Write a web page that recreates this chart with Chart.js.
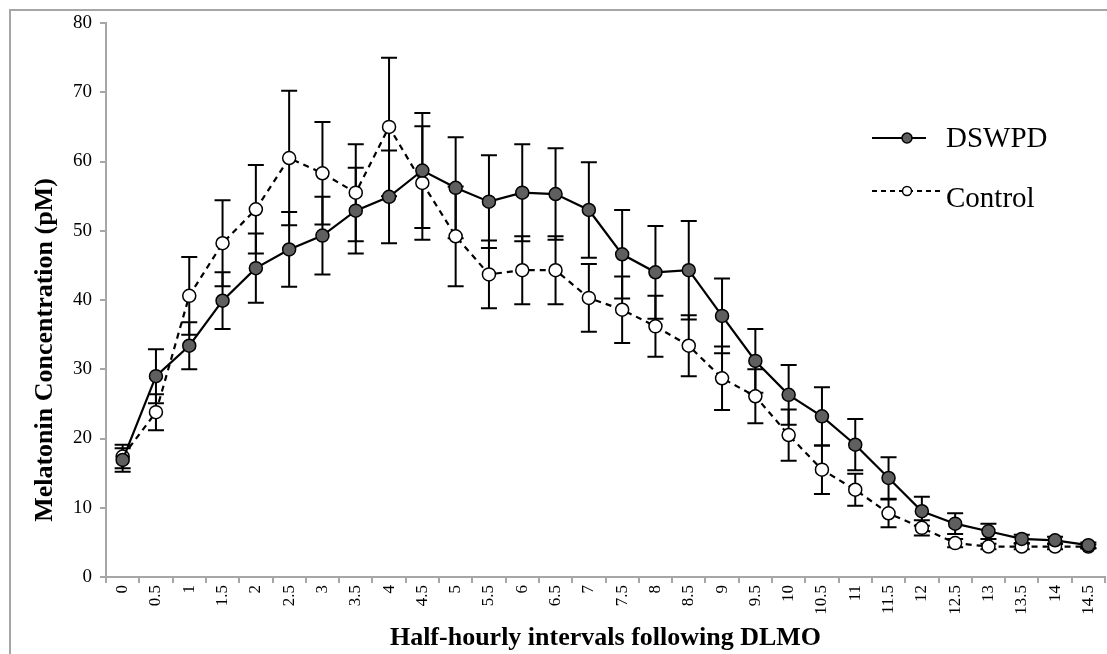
<!DOCTYPE html>
<html>
<head>
<meta charset="utf-8">
<script src="https://cdn.jsdelivr.net/npm/chart.js@4.4.1/dist/chart.umd.min.js"></script>
<style>
  html, body { margin: 0; padding: 0; background: #fff; }
  #wrap { width: 1107px; height: 654px; position: relative; }
</style>
</head>
<body>
<div id="wrap"><canvas id="melatoninChart"></canvas></div>
<script>
// Các mốc thời gian (nửa giờ sau DLMO)
const intervals = ['0', '0.5', '1', '1.5', '2', '2.5', '3', '3.5', '4', '4.5',
    '5', '5.5', '6', '6.5', '7', '7.5', '8', '8.5', '9', '9.5',
    '10', '10.5', '11', '11.5', '12', '12.5', '13', '13.5', '14', '14.5'];

// Nồng độ melatonin (pM)
const dswpdValues = [16.9, 29.0, 33.4, 39.9, 44.6, 47.3, 49.3, 52.9, 54.9, 58.7,
    56.2, 54.2, 55.5, 55.3, 53.0, 46.6, 44.0, 44.3, 37.7, 31.2,
    26.3, 23.2, 19.1, 14.3, 9.5, 7.7, 6.6, 5.5, 5.3, 4.6];
const dswpdErrors = [1.7, 3.9, 3.4, 4.1, 5.0, 5.4, 5.6, 6.2, 6.7, 8.3,
    7.3, 6.7, 7.0, 6.6, 6.9, 6.4, 6.7, 7.1, 5.4, 4.6,
    4.3, 4.2, 3.7, 3.0, 2.1, 1.5, 1.1, 0.6, 0.5, 0.4];

const controlValues = [17.4, 23.8, 40.6, 48.2, 53.1, 60.5, 58.3, 55.5, 65.0, 56.9,
    49.2, 43.7, 44.3, 44.3, 40.3, 38.6, 36.2, 33.4, 28.7, 26.1,
    20.5, 15.5, 12.6, 9.2, 7.1, 4.9, 4.4, 4.4, 4.4, 4.4];
const controlErrors = [1.7, 2.6, 5.6, 6.2, 6.4, 9.7, 7.4, 7.0, 10.0, 8.2,
    7.2, 4.9, 4.9, 4.9, 4.9, 4.8, 4.4, 4.4, 4.6, 3.9,
    3.7, 3.5, 2.3, 2.0, 1.1, 0.6, 0.4, 0.4, 0.4, 0.3];

const yTicks = [0, 10, 20, 30, 40, 50, 60, 70, 80];

const serif = '"Liberation Serif", "Times New Roman", serif';

// Vẽ thanh sai số (error bars) phía sau các điểm
const errorBarPlugin = {
    id: 'errorBars',
    beforeDatasetsDraw(chart) {
        const ctx = chart.ctx;
        const yScale = chart.scales.y;
        ctx.save();
        ctx.strokeStyle = '#000';
        ctx.lineWidth = 2;
        chart.data.datasets.forEach((ds, i) => {
            const meta = chart.getDatasetMeta(i);
            meta.data.forEach((pt, j) => {
                const err = ds.errors[j];
                const yTop = yScale.getPixelForValue(ds.data[j] + err);
                const yBot = yScale.getPixelForValue(ds.data[j] - err);
                ctx.beginPath();
                ctx.moveTo(pt.x, yTop);
                ctx.lineTo(pt.x, yBot);
                ctx.moveTo(pt.x - 8, yTop);
                ctx.lineTo(pt.x + 8, yTop);
                ctx.moveTo(pt.x - 8, yBot);
                ctx.lineTo(pt.x + 8, yBot);
                ctx.stroke();
            });
        });
        ctx.restore();
    }
};

// Khung viền ngoài, tiêu đề trục Y và chú thích
const framePlugin = {
    id: 'frameAndLegend',
    afterDraw(chart) {
        const ctx = chart.ctx;
        const area = chart.chartArea;
        ctx.save();
        ctx.strokeStyle = '#a6a6a6';
        ctx.lineWidth = 2;
        ctx.strokeRect(10, 10, chart.width + 20, chart.height + 20);

        // tiêu đề trục Y
        ctx.save();
        ctx.translate(45, 350);
        ctx.rotate(-Math.PI / 2);
        ctx.fillStyle = '#000';
        ctx.font = 'bold 26px ' + serif;
        ctx.textAlign = 'center';
        ctx.textBaseline = 'middle';
        ctx.fillText('Melatonin Concentration (pM)', 0, 0);
        ctx.restore();

        const rows = [
            { label: 'DSWPD', dash: [], fill: '#5f5f5f', r: 5, lineY: 138, textY: 147, len: 54 },
            { label: 'Control', dash: [5, 4], fill: '#fff', r: 4.5, lineY: 191, textY: 207, len: 69 }
        ];
        const lx = area.right - 233;
        rows.forEach(row => {
            ctx.strokeStyle = '#000';
            ctx.lineWidth = 2;
            ctx.setLineDash(row.dash);
            ctx.beginPath();
            ctx.moveTo(lx, row.lineY);
            ctx.lineTo(lx + row.len, row.lineY);
            ctx.stroke();
            ctx.setLineDash([]);
            ctx.beginPath();
            ctx.arc(lx + 35, row.lineY, row.r, 0, Math.PI * 2);
            ctx.fillStyle = row.fill;
            ctx.fill();
            ctx.lineWidth = 1.5;
            ctx.stroke();
            ctx.fillStyle = '#000';
            ctx.font = '29px ' + serif;
            ctx.textBaseline = 'alphabetic';
            ctx.fillText(row.label, lx + 74, row.textY);
        });
        ctx.restore();
    }
};

const ctx = document.getElementById('melatoninChart').getContext('2d');
new Chart(ctx, {
    type: 'line',
    data: {
        labels: intervals,
        datasets: [
            {
                label: 'DSWPD',
                data: dswpdValues,
                errors: dswpdErrors,
                borderColor: '#000',
                borderWidth: 2.2,
                pointRadius: 6.5,
                pointBackgroundColor: '#5f5f5f',
                pointBorderColor: '#000',
                pointBorderWidth: 1.5,
                tension: 0
            },
            {
                label: 'Control',
                data: controlValues,
                errors: controlErrors,
                borderColor: '#000',
                borderWidth: 2.2,
                borderDash: [6, 5],
                pointRadius: 6.5,
                pointBackgroundColor: '#fff',
                pointBorderColor: '#000',
                pointBorderWidth: 1.5,
                tension: 0
            }
        ]
    },
    options: {
        responsive: true,
        maintainAspectRatio: false,
        animation: false,
        layout: { autoPadding: false, padding: { top: 23, right: 2, left: 0, bottom: 0 } },
        plugins: {
            legend: { display: false },
            tooltip: { enabled: false }
        },
        scales: {
            x: {
                type: 'category',
                offset: true,
                afterFit: scale => {
                    scale.height = 77;
                    scale.paddingLeft = 0;
                    scale.paddingRight = 0;
                },
                grid: {
                    offset: true,
                    drawOnChartArea: false,
                    color: '#a6a6a6',
                    lineWidth: 2,
                    tickLength: 6
                },
                border: { color: '#a6a6a6', width: 2 },
                ticks: {
                    color: '#000',
                    font: { family: serif, size: 17 },
                    minRotation: 90,
                    maxRotation: 90,
                    autoSkip: false,
                    padding: 2
                },
                title: {
                    display: true,
                    text: 'Half-hourly intervals following DLMO',
                    color: '#000',
                    font: { family: serif, size: 26, weight: 'bold' },
                    padding: { top: 0, bottom: 0 }
                }
            },
            y: {
                min: 0,
                max: 80,
                afterFit: scale => { scale.width = 106; },
                afterBuildTicks: scale => { scale.ticks = yTicks.map(v => ({ value: v })); },
                grid: {
                    drawOnChartArea: false,
                    color: '#a6a6a6',
                    lineWidth: 2,
                    tickLength: 6
                },
                border: { color: '#a6a6a6', width: 2 },
                ticks: {
                    color: '#000',
                    font: { family: serif, size: 19 },
                    padding: 8
                }
            }
        }
    },
    plugins: [errorBarPlugin, framePlugin]
});
</script>
</body>
</html>
